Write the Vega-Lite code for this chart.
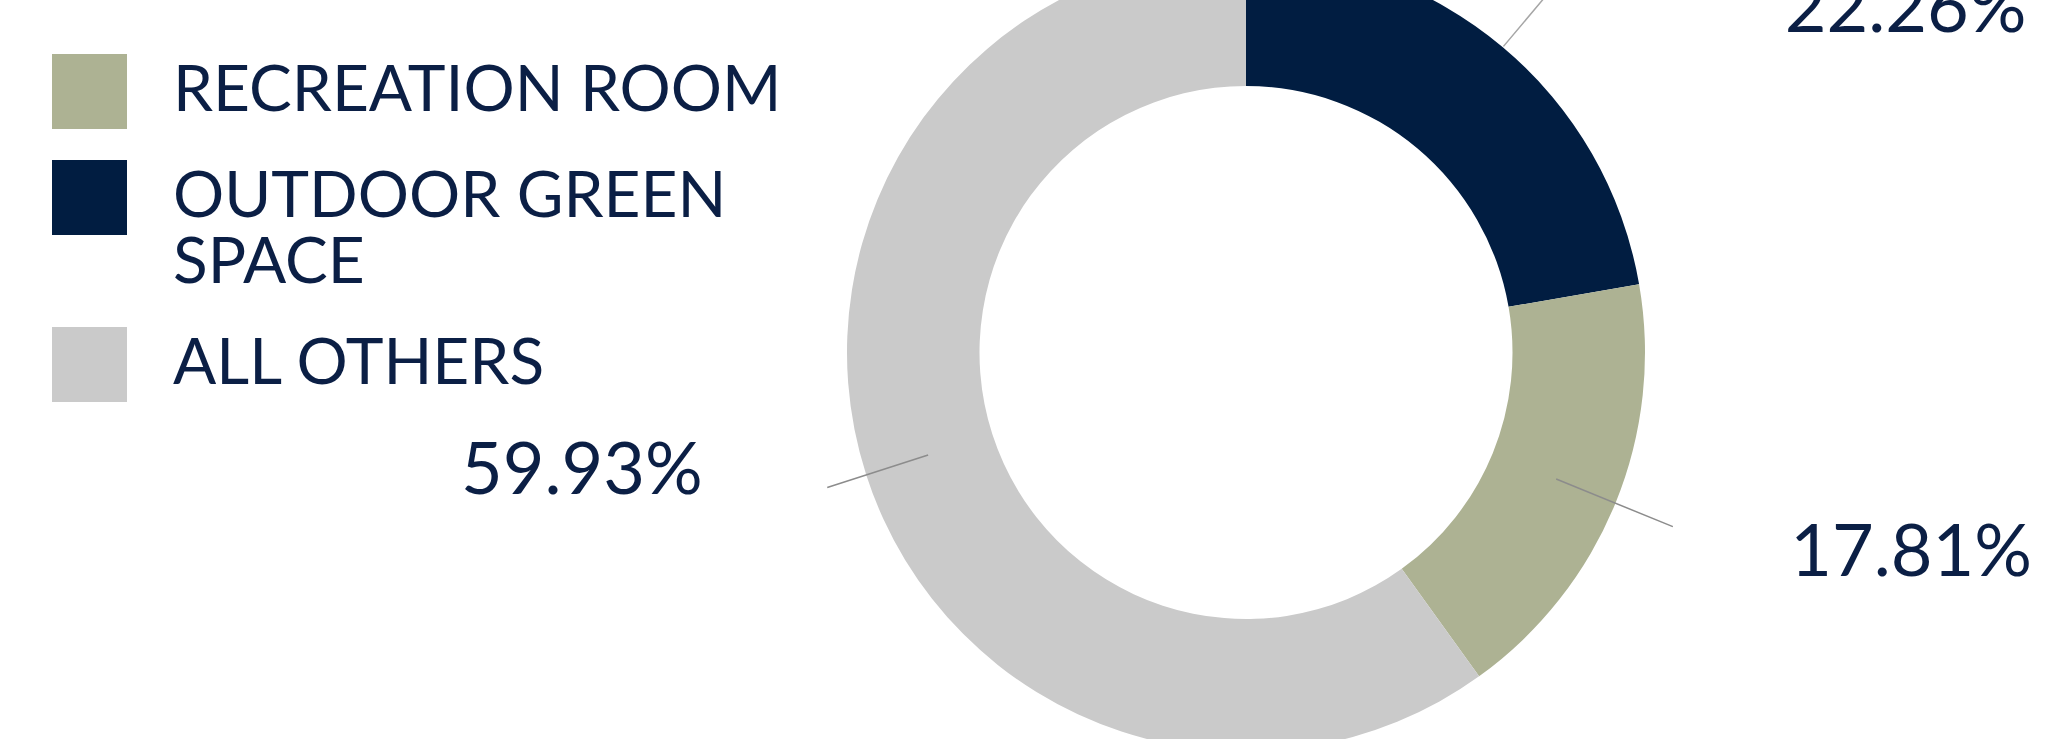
{
  "$schema": "https://vega.github.io/schema/vega-lite/v6.json",
  "autosize": {"type": "none"},
  "padding": {"left": 442, "top": 0, "right": 0, "bottom": 34},
  "width": 1608,
  "height": 705,
  "background": "white",
  "config": {"view": {"stroke": null}, "font": "Lato"},
  "data": {
    "values": [
      {"category": "OUTDOOR GREEN SPACE", "value": 22.26, "label": "22.26%"},
      {"category": "RECREATION ROOM", "value": 17.81, "label": "17.81%"},
      {"category": "ALL OTHERS", "value": 59.93, "label": "59.93%"}
    ]
  },
  "transform": [{"window": [{"op": "row_number", "as": "idx"}]}],
  "resolve": {"scale": {"theta": "independent"}},
  "layer": [
    {
      "mark": {"type": "arc", "outerRadius": 399, "innerRadius": 266.5},
      "encoding": {
        "theta": {"field": "value", "type": "quantitative", "stack": true},
        "order": {"field": "idx", "type": "quantitative"},
        "color": {
          "field": "category",
          "type": "nominal",
          "sort": ["RECREATION ROOM", "OUTDOOR GREEN SPACE", "ALL OTHERS"],
          "scale": {
            "domain": ["RECREATION ROOM", "OUTDOOR GREEN SPACE", "ALL OTHERS"],
            "range": ["#ADB293", "#011D41", "#CACACA"]
          },
          "legend": {
            "title": null,
            "orient": "none",
            "legendX": -390,
            "legendY": 54,
            "padding": 0,
            "symbolType": "square",
            "symbolSize": 5625,
            "symbolStrokeWidth": 0,
            "symbolOpacity": 1,
            "labelFont": "Lato",
            "labelFontSize": 64,
            "labelColor": "#0B1F45",
            "labelOffset": 46,
            "labelLimit": 1000,
            "rowPadding": 31,
            "labelExpr": "datum.label == 'OUTDOOR GREEN SPACE' ? ['OUTDOOR GREEN', 'SPACE'] : datum.label"
          }
        }
      }
    },
    {
      "transform": [
        {"stack": "value", "groupby": [], "sort": [{"field": "idx"}], "as": ["v0", "v1"]},
        {"fold": ["v0", "v1"], "as": ["k", "v"]},
        {"aggregate": [{"op": "mean", "field": "v", "as": "mid"}], "groupby": ["category", "label"]},
        {"filter": "datum.category === 'OUTDOOR GREEN SPACE'"}
      ],
      "layer": [
        {
          "mark": {"type": "arc", "outerRadius": 472, "innerRadius": 400, "filled": false, "stroke": "#A6A6A6", "strokeWidth": 1.5},
          "encoding": {
            "theta": {"field": "mid", "type": "quantitative", "stack": null, "scale": {"domain": [0, 100]}},
            "theta2": {"field": "mid"}
          }
        },
        {
          "mark": {"type": "text", "radius": 430, "font": "Lato", "fontSize": 72, "color": "#0B1F45", "align": "left", "baseline": "middle", "dx": 262, "dy": -13},
          "encoding": {
            "theta": {"field": "mid", "type": "quantitative", "stack": null, "scale": {"domain": [0, 100]}},
            "text": {"field": "label", "type": "nominal"}
          }
        }
      ]
    },
    {
      "transform": [
        {"stack": "value", "groupby": [], "sort": [{"field": "idx"}], "as": ["v0", "v1"]},
        {"fold": ["v0", "v1"], "as": ["k", "v"]},
        {"aggregate": [{"op": "mean", "field": "v", "as": "mid"}], "groupby": ["category", "label"]},
        {"filter": "datum.category === 'RECREATION ROOM'"}
      ],
      "layer": [
        {
          "mark": {"type": "arc", "outerRadius": 461, "innerRadius": 335, "filled": false, "stroke": "#8C8C8C", "strokeWidth": 1.5},
          "encoding": {
            "theta": {"field": "mid", "type": "quantitative", "stack": null, "scale": {"domain": [0, 100]}},
            "theta2": {"field": "mid"}
          }
        },
        {
          "mark": {"type": "text", "radius": 430, "font": "Lato", "fontSize": 72, "color": "#0B1F45", "align": "left", "baseline": "middle", "dx": 146, "dy": 39},
          "encoding": {
            "theta": {"field": "mid", "type": "quantitative", "stack": null, "scale": {"domain": [0, 100]}},
            "text": {"field": "label", "type": "nominal"}
          }
        }
      ]
    },
    {
      "transform": [
        {"stack": "value", "groupby": [], "sort": [{"field": "idx"}], "as": ["v0", "v1"]},
        {"fold": ["v0", "v1"], "as": ["k", "v"]},
        {"aggregate": [{"op": "mean", "field": "v", "as": "mid"}], "groupby": ["category", "label"]},
        {"filter": "datum.category === 'ALL OTHERS'"}
      ],
      "layer": [
        {
          "mark": {"type": "arc", "outerRadius": 440, "innerRadius": 334, "filled": false, "stroke": "#8C8C8C", "strokeWidth": 1.5},
          "encoding": {
            "theta": {"field": "mid", "type": "quantitative", "stack": null, "scale": {"domain": [0, 100]}},
            "theta2": {"field": "mid"}
          }
        },
        {
          "mark": {"type": "text", "radius": 430, "font": "Lato", "fontSize": 72, "color": "#0B1F45", "align": "right", "baseline": "middle", "dx": -134, "dy": -12},
          "encoding": {
            "theta": {"field": "mid", "type": "quantitative", "stack": null, "scale": {"domain": [0, 100]}},
            "text": {"field": "label", "type": "nominal"}
          }
        }
      ]
    }
  ]
}
